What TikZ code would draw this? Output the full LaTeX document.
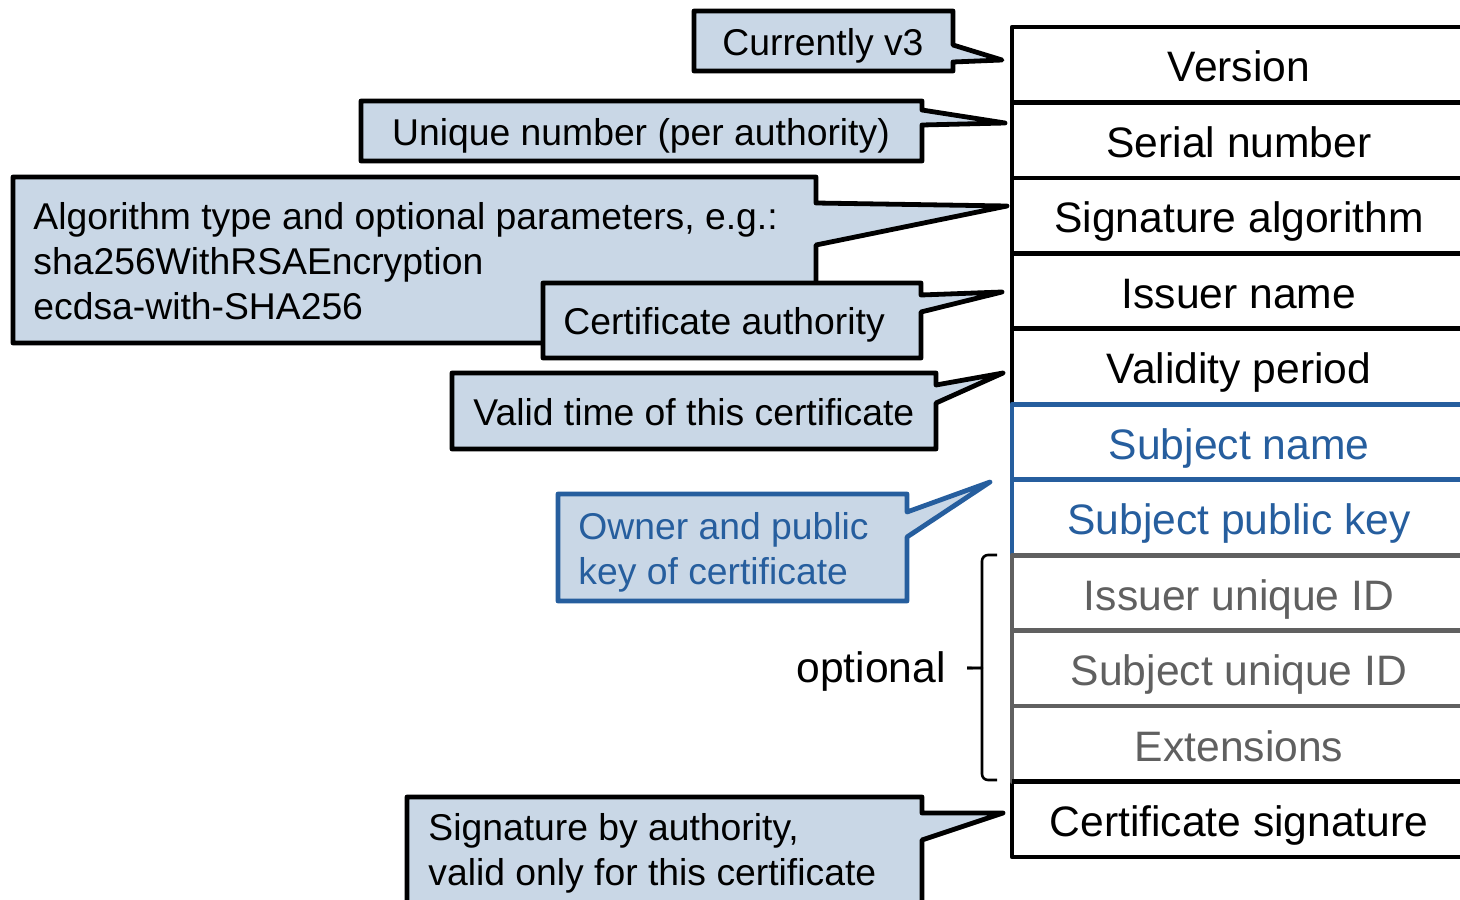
\documentclass[tikz,border=0pt]{standalone}
\usepackage{fontspec}
\setmainfont{Liberation Sans}
\begin{document}
\definecolor{calloutfill}{RGB}{201,215,230}
\definecolor{certblue}{RGB}{38,94,158}
\definecolor{certgray}{RGB}{96,96,96}
\begin{tikzpicture}[x=0.5pt,y=-0.5pt,
  line join=round,
  field/.style={draw=black,line width=2.4pt,fill=white},
  fieldtext/.style={anchor=base,inner sep=0pt,font=\fontsize{21.3pt}{25pt}\selectfont},
  callout/.style={draw=black,line width=2.4pt,fill=calloutfill},
  callouttext/.style={anchor=base west,inner sep=0pt,font=\fontsize{18.65pt}{22pt}\selectfont},
]
\useasboundingbox (0,0) rectangle (1460,899);

% certificate fields, one row each
\foreach \i/\name/\txt in {0/ver/Version,1/ser/Serial number,2/alg/Signature algorithm,3/iss/Issuer name,4/val/Validity period,10/sig/Certificate signature}{
  \draw[field] (1012,{27+75.45*\i}) rectangle (1466,{27+75.45*(\i+1)});
  \node[fieldtext] (\name) at (1239,{27+75.45*\i+55}) {\txt};
}
\foreach \i/\name/\txt in {5/subj/Subject name,6/spk/Subject public key}{
  \draw[field,draw=certblue] (1012,{27+75.45*\i}) rectangle (1466,{27+75.45*(\i+1)});
  \node[fieldtext,text=certblue] (\name) at (1239,{27+75.45*\i+55}) {\txt};
}
\foreach \i/\name/\txt in {7/iuid/Issuer unique ID,8/suid/Subject unique ID,9/ext/Extensions}{
  \draw[field,draw=certgray] (1012,{27+75.45*\i}) rectangle (1466,{27+75.45*(\i+1)});
  \node[fieldtext,text=certgray] (\name) at (1239,{27+75.45*\i+55}) {\txt};
}
\draw[field,fill=none] (1012,{27+75.45*10}) -- (1466,{27+75.45*10});

% brace over the optional fields
\draw[line width=1.3pt,rounded corners=3pt]
  (997,555) -- (982,555) -- (982,662) to[out=-90,in=0] (967,668);
\draw[line width=1.3pt,rounded corners=3pt]
  (967,668) to[out=0,in=90] (982,674) -- (982,780) -- (997,780);
\node[anchor=base east,inner sep=0pt,font=\fontsize{21.3pt}{25pt}\selectfont] (opt) at (946,682) {optional};

% callouts
\draw[callout] (694,11) -- (953,11) -- (953,45) -- (1002,60) -- (953,62) -- (953,71) -- (694,71) -- cycle;
\node[callouttext,anchor=base] (c1) at (823,56) {Currently v3};

\draw[callout] (361,101) -- (922,101) -- (922,110) -- (1005,123) -- (922,125) -- (922,161) -- (361,161) -- cycle;
\node[callouttext,anchor=base] (c2) at (641,145) {Unique number (per authority)};

\draw[callout] (13,177) -- (816,177) -- (816,203) -- (1007,206) -- (816,245) -- (816,343) -- (13,343) -- cycle;
\node[callouttext] (c3a) at (33,229) {Algorithm type and optional parameters, e.g.:};
\node[callouttext] (c3b) at (33,274) {sha256WithRSAEncryption};
\node[callouttext] (c3c) at (33,319) {ecdsa-with-SHA256};

\draw[callout] (543,283) -- (921,283) -- (921,295) -- (1002,292) -- (921,312) -- (921,358) -- (543,358) -- cycle;
\node[callouttext] (c4) at (563,334) {Certificate authority};

\draw[callout] (452,373) -- (936,373) -- (936,385) -- (1003,373) -- (936,403) -- (936,449) -- (452,449) -- cycle;
\node[callouttext] (c5) at (473,425) {Valid time of this certificate};

\draw[callout,draw=certblue] (558,494) -- (907,494) -- (907,512) -- (990,482) -- (907,537) -- (907,601) -- (558,601) -- cycle;
\node[callouttext,text=certblue] (c6a) at (578,539) {Owner and public};
\node[callouttext,text=certblue] (c6b) at (578,584) {key of certificate};

\draw[callout] (407,797) -- (922,797) -- (922,813) -- (1003,813) -- (922,840) -- (922,920) -- (407,920) -- cycle;
\node[callouttext] (c7a) at (428,840) {Signature by authority,};
\node[callouttext] (c7b) at (428,885) {valid only for this certificate};
\end{tikzpicture}
\end{document}
